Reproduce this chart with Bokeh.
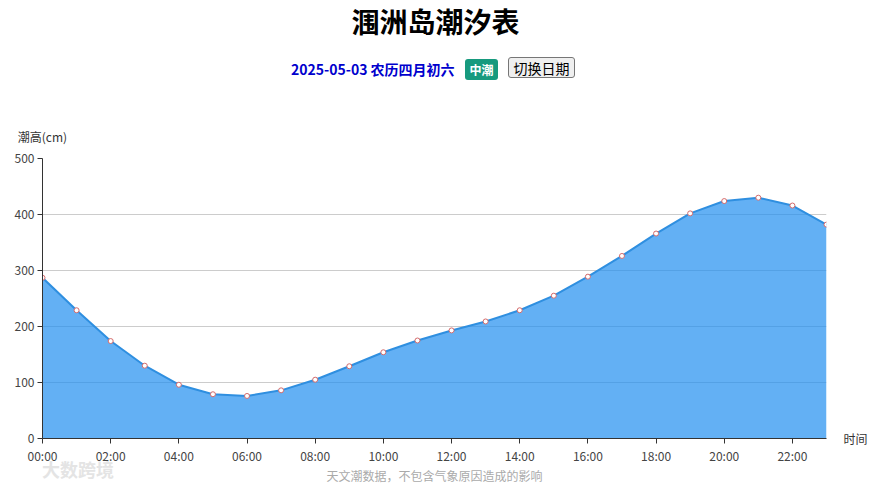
from bokeh.plotting import figure
from bokeh.models import Range1d, FixedTicker, LinearAxis, ColumnDataSource, Div
from bokeh.layouts import column
from bokeh.embed import file_html
from bokeh.resources import INLINE

# ---- data ----
hours = list(range(24))
tide_cm = [287, 229, 174, 130, 96, 79, 76, 86, 105, 129, 154, 175, 193, 209,
           229, 255, 289, 326, 366, 402, 424, 430, 416, 382]
tick_hours = [0, 2, 4, 6, 8, 10, 12, 14, 16, 18, 20, 22]
tick_labels = ["00:00", "02:00", "04:00", "06:00", "08:00", "10:00", "12:00",
               "14:00", "16:00", "18:00", "20:00", "22:00"]
y_ticks = [0, 100, 200, 300, 400, 500]

title_text = "涠洲岛潮汐表"
date_text = "2025-05-03 农历四月初六"
badge_text = "中潮"
button_text = "切换日期"
y_name = "潮高(cm)"
x_name = "时间"
note_text = "天文潮数据，不包含气象原因造成的影响"
watermark_text = "大数跨境"

FONT = "Noto Sans CJK SC"
W = 871

# ---- header ----
header_html = f"""
<div style="position:relative;width:{W}px;height:100px;font-family:'{FONT}';">
  <div style="position:absolute;left:0;top:5px;width:{W}px;text-align:center;
       font-size:28px;font-weight:bold;line-height:32px;color:#000;">{title_text}</div>
  <div style="position:absolute;left:291px;top:59px;height:20px;line-height:20px;
       font-size:14px;font-weight:bold;color:#0000cd;white-space:nowrap;">{date_text}</div>
  <div style="position:absolute;left:465px;top:59px;width:33px;height:21px;line-height:21px;
       background:#179a7e;border-radius:3px;color:#fff;font-size:12px;font-weight:bold;
       text-align:center;">{badge_text}</div>
  <div style="position:absolute;left:508px;top:57px;width:67px;height:21px;line-height:21px;
       background:#efefef;border:1px solid #767676;border-radius:3px;color:#000;
       font-size:14px;text-align:center;">{button_text}</div>
</div>
"""
header = Div(text=header_html, width=W, height=100, margin=0)

# ---- chart ----
p = figure(width=W, height=366, output_backend="svg", toolbar_location=None,
           x_range=Range1d(0, 23), y_range=Range1d(0, 500),
           min_border_left=42, min_border_right=45, min_border_top=58,
           min_border_bottom=28, margin=0)
p.outline_line_color = None

src = ColumnDataSource(dict(x=hours, y=tide_cm))
p.varea(x="x", y1=0, y2="y", source=src, fill_color="rgb(33,143,240)", fill_alpha=0.7)
p.line(x="x", y="y", source=src, line_color="#2f8fe0", line_width=2)
p.scatter(x="x", y="y", source=src, size=5, fill_color="white",
          line_color="#d46a6a", line_width=1)

p.xaxis.ticker = FixedTicker(ticks=tick_hours)
p.xaxis.major_label_overrides = {h: l for h, l in zip(tick_hours, tick_labels)}
p.yaxis.ticker = FixedTicker(ticks=y_ticks)
for ax in (p.xaxis, p.yaxis):
    ax.axis_line_color = "#333333"
    ax.major_tick_line_color = "#333333"
    ax.major_tick_in = 0
    ax.major_tick_out = 5
    ax.minor_tick_line_color = None
    ax.major_label_text_font = FONT
    ax.major_label_text_font_size = "12px"
    ax.major_label_text_color = "#444444"
    ax.major_label_standoff = 3
p.xgrid.grid_line_color = None
p.ygrid.grid_line_color = "#cccccc"

# axis names via tick-only axes
right_ax = LinearAxis(ticker=FixedTicker(ticks=[0]), major_label_overrides={0: x_name})
above_ax = LinearAxis(ticker=FixedTicker(ticks=[0]), major_label_overrides={0: y_name})
for ax, so in ((right_ax, 11), (above_ax, 8)):
    ax.axis_line_color = None
    ax.major_tick_line_color = None
    ax.minor_tick_line_color = None
    ax.major_label_text_font = FONT
    ax.major_label_text_font_size = "12px"
    ax.major_label_text_color = "#333333"
    ax.major_label_standoff = so
p.add_layout(right_ax, "right")
p.add_layout(above_ax, "above")

# ---- footer ----
footer_html = f"""
<div style="position:relative;width:{W}px;height:21px;font-family:'{FONT}';overflow:visible;">
  <div style="position:absolute;left:42px;top:-6px;line-height:19px;font-size:18px;
       font-weight:bold;color:#e4e4e4;white-space:nowrap;">{watermark_text}</div>
  <div style="position:absolute;left:0;top:1px;width:{W - 2}px;text-align:center;
       line-height:18px;font-size:12px;color:#aaaaaa;">{note_text}</div>
</div>
"""
footer = Div(text=footer_html, width=W, height=21, margin=0)

layout = column(header, p, footer, spacing=0, margin=0)
open("out.html", "w").write(file_html(layout, INLINE))
